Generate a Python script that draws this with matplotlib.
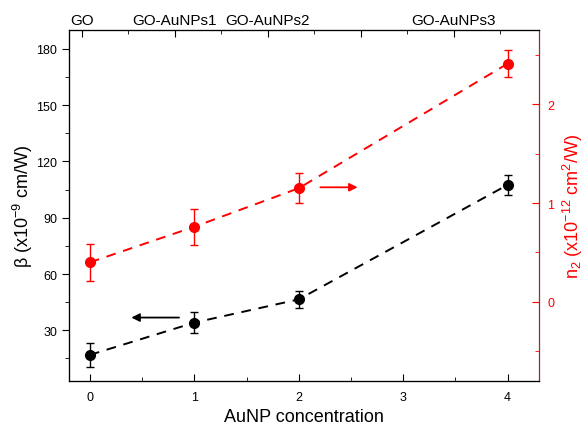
import matplotlib
matplotlib.use('Agg')
import matplotlib.pyplot as plt
from matplotlib.ticker import MultipleLocator

plt.rcParams['font.family'] = ['Liberation Sans', 'DejaVu Sans']
plt.rcParams['mathtext.default'] = 'regular'

# data
conc = [0, 1, 2, 4]
beta = [16.9, 34.1, 46.5, 107.5]
beta_err = [6.6, 5.5, 4.7, 5.5]
n2 = [0.40, 0.76, 1.15, 2.41]
n2_err = [0.19, 0.18, 0.15, 0.14]
top_ticks = [0, 1, 2, 3, 4]
top_labels = ['GO', 'GO-AuNPs1', 'GO-AuNPs2', '', 'GO-AuNPs3']

fig = plt.figure(figsize=(5.84, 4.27), dpi=100)
ax1 = fig.add_axes([69/584, 1-382/427, 470/584, 351/427])

ax1.errorbar(conc, beta, yerr=beta_err, color='black', ls='--', lw=1.4,
             marker='o', ms=7, mec='black', mfc='black', capsize=3,
             elinewidth=1, capthick=1, dashes=(5, 4))
ax1.set_xlim(-0.2, 4.3)
ax1.set_ylim(3, 190)
ax1.xaxis.set_major_locator(MultipleLocator(1))
ax1.xaxis.set_minor_locator(MultipleLocator(0.5))
ax1.yaxis.set_major_locator(MultipleLocator(30))
ax1.yaxis.set_minor_locator(MultipleLocator(15))
ax1.tick_params(axis='x', which='both', direction='in', labelsize=9, pad=7)
ax1.tick_params(axis='x', which='major', length=5)
ax1.tick_params(axis='x', which='minor', length=3)
ax1.tick_params(axis='y', which='both', direction='out', labelsize=9)
ax1.tick_params(axis='y', which='major', length=5)
ax1.tick_params(axis='y', which='minor', length=3)
ax1.set_xlabel('AuNP concentration', fontsize=13, labelpad=4)
ax1.set_ylabel(r'β (x10$^{-9}$ cm/W)', fontsize=13, labelpad=1)

# arrow for the left axis
ax1.annotate('', xy=(0.37, 36.8), xytext=(0.88, 36.8),
             arrowprops=dict(arrowstyle='-|>', color='black', lw=1.3,
                             mutation_scale=12))
# arrow for the right axis
ax1.annotate('', xy=(2.59, 106.2), xytext=(2.18, 106.2),
             arrowprops=dict(arrowstyle='-|>', color='red', lw=1.3,
                             mutation_scale=12))

ax2 = ax1.twinx()
ax2.errorbar(conc, n2, yerr=n2_err, color='red', ls='--', lw=1.4,
             marker='o', ms=7, mec='red', mfc='red', capsize=3,
             elinewidth=1, capthick=1, dashes=(5, 4))
ax2.set_ylim(-0.8, 2.75)
ax2.yaxis.set_major_locator(MultipleLocator(1))
ax2.yaxis.set_minor_locator(MultipleLocator(0.5))
ax2.tick_params(axis='y', which='both', direction='in', colors='red',
                labelsize=9, pad=6)
ax2.tick_params(axis='y', which='major', length=5)
ax2.tick_params(axis='y', which='minor', length=3)
ax2.spines['right'].set_color('red')
ax2.set_ylabel(r'n$_2$ (x10$^{-12}$ cm$^2$/W)', color='red', fontsize=13, labelpad=5)

ax3 = ax1.twiny()
ax3.set_xlim(-0.137, 4.917)
ax3.set_xticks(top_ticks)
ax3.set_xticklabels(top_labels, fontsize=11)
ax3.xaxis.set_minor_locator(MultipleLocator(0.5))
ax3.tick_params(axis='x', which='both', direction='in', pad=2)
ax3.tick_params(axis='x', which='major', length=5)
ax3.tick_params(axis='x', which='minor', length=3)
ax3.spines['right'].set_visible(False)

fig.savefig('out.png', dpi=100)
